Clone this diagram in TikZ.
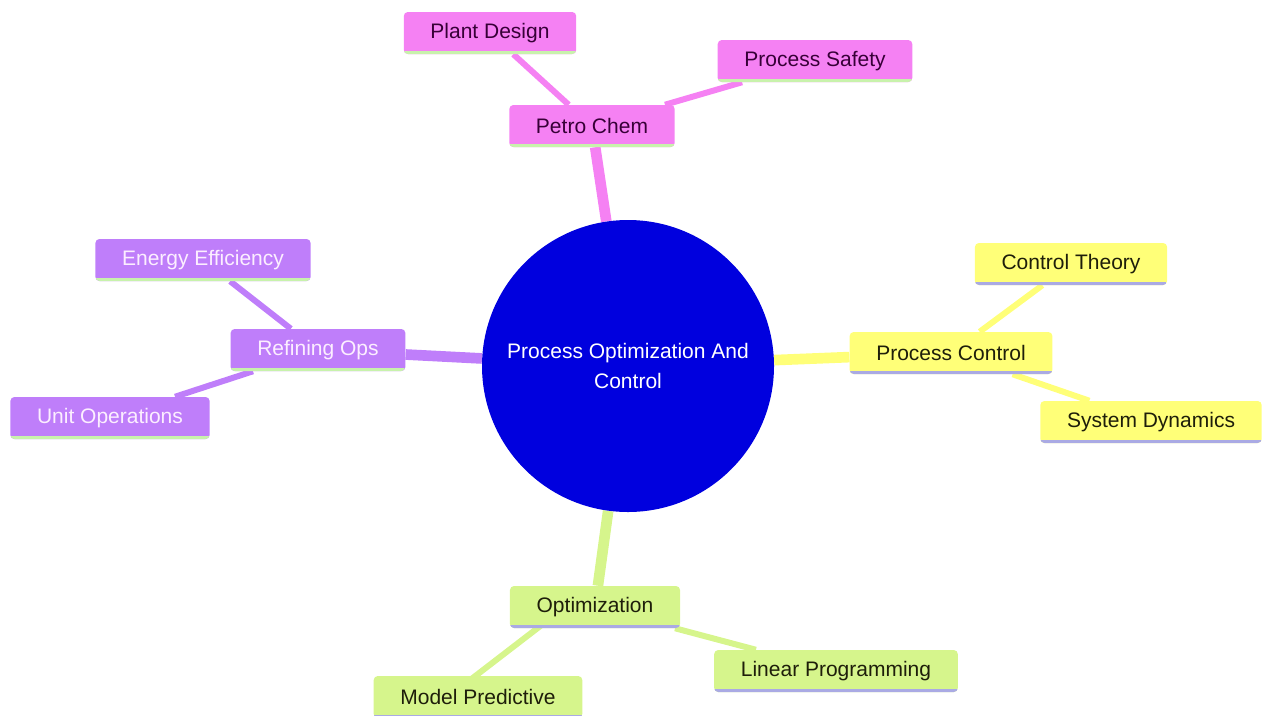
\documentclass[tikz,border=0pt]{standalone}
\usepackage{fontspec}
\setmainfont{Liberation Sans}
\usetikzlibrary{backgrounds}
\definecolor{hubblue}{RGB}{0, 0, 222}
\definecolor{pinkc}{RGB}{245, 129, 243}
\definecolor{purplec}{RGB}{191, 126, 250}
\definecolor{yellowc}{RGB}{255, 255, 120}
\definecolor{greenc}{RGB}{214, 245, 140}
\definecolor{mint}{RGB}{200, 242, 172}
\definecolor{lavender}{RGB}{170, 170, 228}
\definecolor{pinktext}{RGB}{55, 0, 55}
\definecolor{purpletext}{RGB}{252, 238, 255}
\definecolor{darktext}{RGB}{30, 30, 10}

\begin{document}
\begin{tikzpicture}[x=0.75pt, y=-0.75pt,
  topic/.style={rounded corners=3pt, minimum height=31.5pt, inner xsep=20pt,
    font=\fontsize{15.75}{19}\selectfont},
  underline/.style={path picture={\draw[line width=4.5pt, #1]
    (path picture bounding box.south west) -- (path picture bounding box.south east);}},
  pinkbox/.style={topic, fill=pinkc, text=pinktext, underline=mint},
  purplebox/.style={topic, fill=purplec, text=purpletext, underline=mint},
  yellowbox/.style={topic, fill=yellowc, text=darktext, underline=lavender},
  greenbox/.style={topic, fill=greenc, text=darktext, underline=lavender},
  hub/.style={circle, fill=hubblue, text=white, minimum size=219pt, inner sep=0pt,
    align=center, font=\fontsize{15.75}{23}\selectfont},
  trunk/.style={line width=8pt},
  twig/.style={line width=4.5pt}]
  \useasboundingbox (0, 0) rectangle (1262, 715);

  \node[hub] (hub) at (628, 366) {Process Optimization And\\Control};

  \node[pinkbox] (petro) at (592, 126) {Petro Chem};
  \node[pinkbox] (plant) at (490, 33) {Plant Design};
  \node[pinkbox] (safety) at (815, 61) {Process Safety};

  \node[yellowbox] (pctrl) at (951, 353) {Process Control};
  \node[yellowbox] (ctheory) at (1071, 264) {Control Theory};
  \node[yellowbox] (sysdyn) at (1151, 422) {System Dynamics};

  \node[purplebox] (refining) at (318, 350) {Refining Ops};
  \node[purplebox] (energy) at (203, 260) {Energy Efficiency};
  \node[purplebox] (unitops) at (110, 418) {Unit Operations};

  \node[greenbox] (optim) at (595, 607) {Optimization};
  \node[greenbox] (linprog) at (836, 671) {Linear Programming};
  \node[greenbox] (modelpred) at (478, 697) {Model Predictive};

  \begin{scope}[on background layer]
    \draw[trunk, pinkc] (hub) -- (petro);
    \draw[twig, pinkc] (petro) -- (plant);
    \draw[twig, pinkc] (petro) -- (safety);

    \draw[trunk, yellowc] (hub) -- (pctrl);
    \draw[twig, yellowc] (pctrl) -- (ctheory);
    \draw[twig, yellowc] (pctrl) -- (sysdyn);

    \draw[trunk, purplec] (hub) -- (refining);
    \draw[twig, purplec] (refining) -- (energy);
    \draw[twig, purplec] (refining) -- (unitops);

    \draw[trunk, greenc] (hub) -- (optim);
    \draw[twig, greenc] (optim) -- (linprog);
    \draw[twig, greenc] ([xshift=-22.5pt]optim.center) -- ([xshift=-22.5pt]modelpred.center);
  \end{scope}
\end{tikzpicture}
\end{document}
